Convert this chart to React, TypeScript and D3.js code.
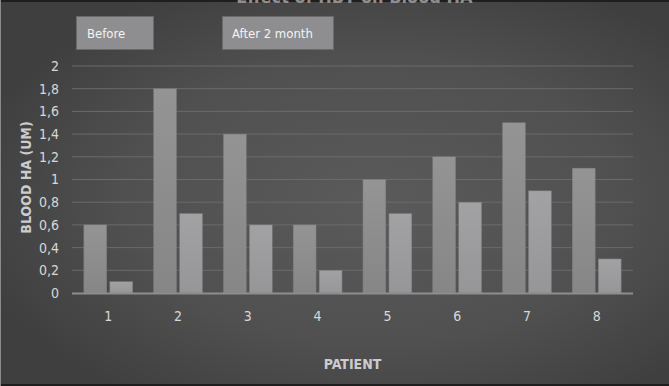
import React from 'react';
import * as d3 from 'd3';

const patients = ['1', '2', '3', '4', '5', '6', '7', '8'];
const before = [0.6, 1.8, 1.4, 0.6, 1.0, 1.2, 1.5, 1.1];
const after2Month = [0.1, 0.7, 0.6, 0.2, 0.7, 0.8, 0.9, 0.3];
const yTicks = [0, 0.2, 0.4, 0.6, 0.8, 1, 1.2, 1.4, 1.6, 1.8, 2];
const seriesNames = ['Before', 'After 2 month'];

const W = 669;
const H = 386;
const m = { t: 66, r: 36, b: 93, l: 72 };
const font = '"Liberation Sans Narrow", "DejaVu Sans Condensed", "Open Sans", sans-serif';

const App = () => {
  const w = W - m.l - m.r;
  const h = H - m.t - m.b;

  const x = d3.scaleBand().domain(patients).range([0, w]).paddingInner(0.3).paddingOuter(0.17);
  const x1 = d3.scaleBand().domain(seriesNames).range([0, x.bandwidth()]).paddingInner(0.12);
  const y = d3.scaleLinear().domain([0, 2]).range([h, 0]);
  const fmt = (v: number) => String(v).replace('.', ',');

  const series = [
    { name: seriesNames[0], values: before, fill: 'url(#barA)' },
    { name: seriesNames[1], values: after2Month, fill: 'url(#barB)' },
  ];

  return (
    <svg width={W} height={H} style={{ display: 'block', position: 'absolute', left: 0, top: 0 }}>
      <defs>
        <radialGradient id="bg" cx="0.56" cy="0.52" r="0.62">
          <stop offset="0%" stopColor="#5a5a5b" />
          <stop offset="60%" stopColor="#505051" />
          <stop offset="100%" stopColor="#3f3f40" />
        </radialGradient>
        <linearGradient id="barA" x1="0" y1="0" x2="0" y2="1">
          <stop offset="0%" stopColor="#949495" />
          <stop offset="100%" stopColor="#868687" />
        </linearGradient>
        <linearGradient id="barB" x1="0" y1="0" x2="0" y2="1">
          <stop offset="0%" stopColor="#a2a2a4" />
          <stop offset="100%" stopColor="#969698" />
        </linearGradient>
      </defs>
      <rect x={0} y={0} width={W} height={H} fill="url(#bg)" />
      <rect x={0} y={0} width={W} height={2} fill="#1e1e1e" />
      <rect x={0} y={H - 2} width={W} height={2} fill="#1e1e1e" />
      <rect x={0} y={0} width={1} height={H} fill="#8a8a8a" />

      {/* title, cut by the top edge as in the source image */}
      <text x={W / 2 + 20} y={3} textAnchor="middle" fontFamily={font} fontWeight="bold" fontSize={18} fill="#8e8e8e">
        Effect of HBT on Blood HA
      </text>

      {/* legend boxes */}
      <g fontFamily={font} fontSize={13} fill="#f4f4f4">
        <rect x={76.5} y={16.5} width={77} height={33} fill="#8e8e90" stroke="#6a6a6a" />
        <text x={87} y={38}>Before</text>
        <rect x={222.5} y={16.5} width={111} height={33} fill="#8e8e90" stroke="#6a6a6a" />
        <text x={232} y={38}>After 2 month</text>
      </g>

      <g transform={`translate(${m.l},${m.t})`}>
        {yTicks.map(t => (
          <g key={t}>
            {t > 0 && <line x1={0} x2={w} y1={y(t)} y2={y(t)} stroke="#6b6b6c" strokeWidth={1} />}
            <text x={-13} y={y(t)} dy="0.35em" textAnchor="end" fontFamily={font} fontSize={14} fill="#d8d8d8">
              {fmt(t)}
            </text>
          </g>
        ))}

        {series.map(s =>
          patients.map((p, i) => (
            <rect
              key={s.name + p}
              x={(x(p) ?? 0) + (x1(s.name) ?? 0)}
              y={y(s.values[i])}
              width={x1.bandwidth()}
              height={h - y(s.values[i])}
              fill={s.fill}
              stroke="#7a7a7b"
              strokeWidth={0.5}
            />
          ))
        )}

        <line x1={0} x2={w} y1={h + 0.5} y2={h + 0.5} stroke="#8e8e8f" strokeWidth={2} />

        {patients.map(p => (
          <text key={p} x={(x(p) ?? 0) + x.bandwidth() / 2} y={h + 28} textAnchor="middle" fontFamily={font} fontSize={14} fill="#d8d8d8">
            {p}
          </text>
        ))}

        <text x={w / 2} y={h + 76} textAnchor="middle" fontFamily={font} fontWeight="bold" fontSize={14} fill="#cccccc">
          PATIENT
        </text>
        <text transform={`translate(${-41},${h / 2 - 2}) rotate(-90)`} textAnchor="middle" fontFamily={font} fontWeight="bold" fontSize={14} fill="#cccccc">
          BLOOD HA (UM)
        </text>
      </g>
    </svg>
  );
};

export default App;
